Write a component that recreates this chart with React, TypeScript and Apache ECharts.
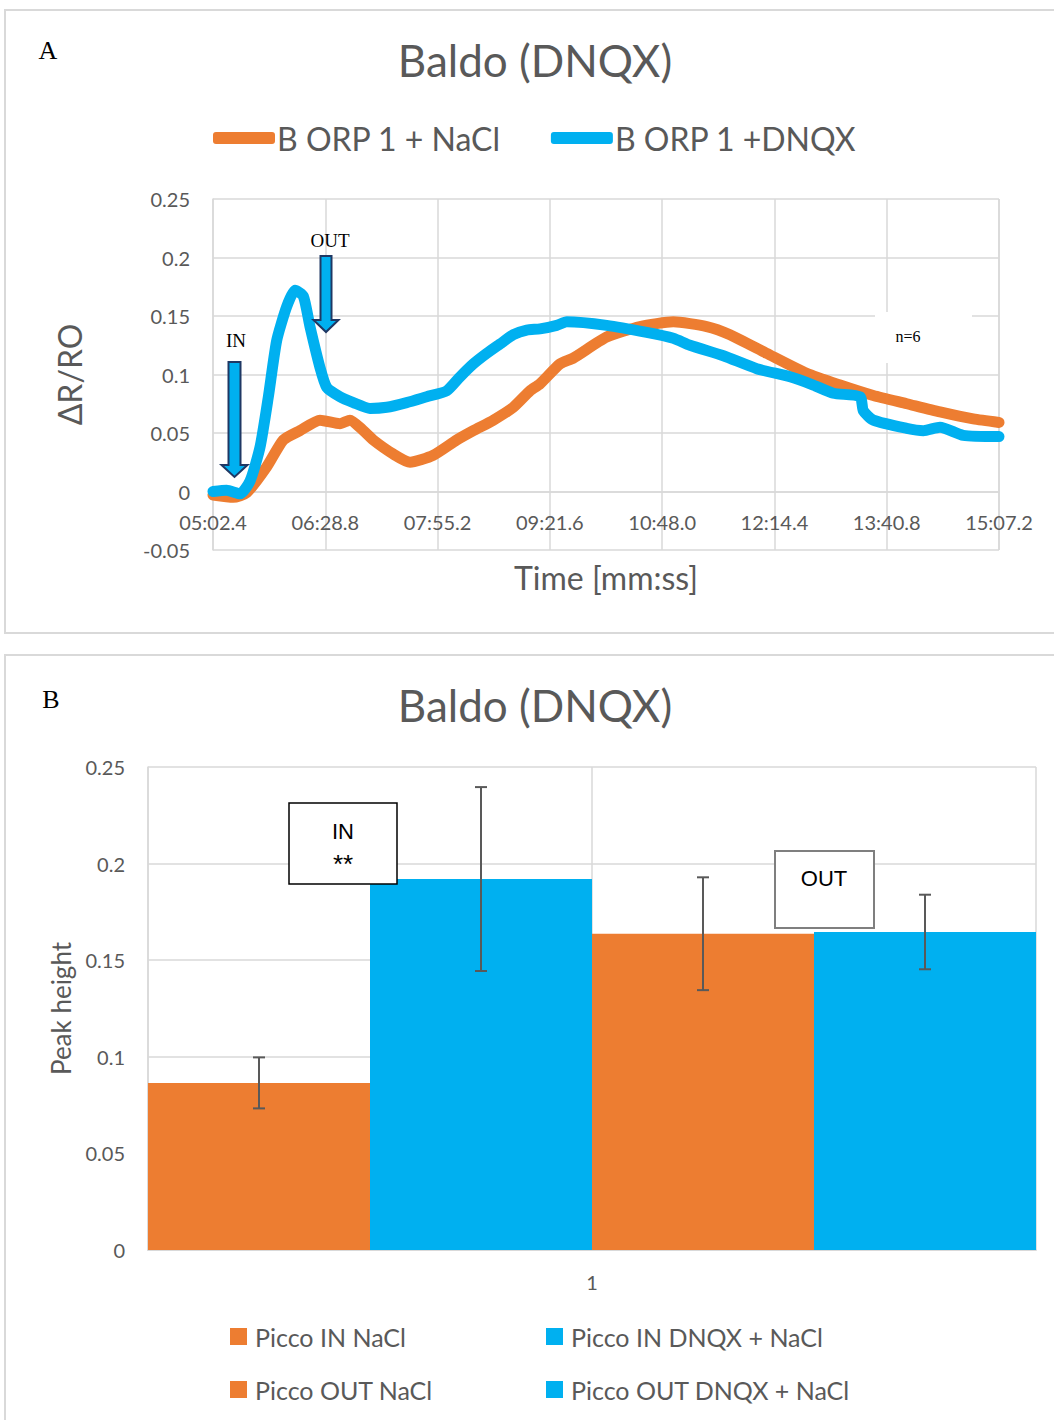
import React, { useEffect, useRef } from "react";
import * as echarts from "echarts";

// ---------- Panel A data (time in seconds, ΔR/R0) ----------
const T0 = 302.4; // 05:02.4
const T_END = 907.2; // 15:07.2
const TICK_STEP = 86.4;
const Y_MIN_A = -0.05;
const Y_MAX_A = 0.25;

const NACL_T = [302.4, 318.0, 328.3, 343.7, 356.5, 369.3, 384.7, 400.1, 407.8, 418.1, 425.7, 441.1, 454.0, 471.9, 489.9, 502.7, 518.1, 533.5, 546.3, 554.0, 569.4, 579.6, 605.3, 631.0, 656.6, 682.3, 700.2, 728.5, 759.2, 784.9, 810.5, 836.2, 861.8, 887.4, 907.2];
const NACL_V = [-0.003, -0.005, -0.001, 0.021, 0.044, 0.052, 0.061, 0.058, 0.061, 0.052, 0.044, 0.032, 0.025, 0.031, 0.044, 0.052, 0.061, 0.072, 0.086, 0.092, 0.109, 0.114, 0.132, 0.141, 0.145, 0.141, 0.134, 0.118, 0.101, 0.091, 0.082, 0.075, 0.068, 0.062, 0.059];

const DNQX_T = [302.4, 312.9, 323.2, 330.9, 338.6, 345.0, 351.4, 359.1, 365.5, 371.9, 377.0, 384.7, 389.9, 400.1, 410.4, 423.2, 436.1, 451.4, 466.8, 482.2, 492.5, 502.7, 513.0, 523.2, 533.5, 543.8, 554.0, 566.9, 574.6, 605.3, 636.1, 656.6, 669.4, 695.1, 720.8, 746.4, 764.3, 779.7, 800.3, 802.8, 810.5, 836.2, 849.0, 861.8, 879.7, 907.2];
const DNQX_V = [0.000, 0.001, -0.002, 0.009, 0.038, 0.081, 0.129, 0.158, 0.172, 0.167, 0.141, 0.106, 0.089, 0.081, 0.076, 0.071, 0.072, 0.076, 0.081, 0.086, 0.098, 0.109, 0.118, 0.126, 0.134, 0.138, 0.139, 0.142, 0.145, 0.142, 0.136, 0.131, 0.125, 0.116, 0.105, 0.098, 0.091, 0.084, 0.081, 0.069, 0.061, 0.054, 0.052, 0.055, 0.048, 0.047];

const LINE_NAMES = ["B ORP 1 + NaCl", "B ORP 1 +DNQX"];

// ---------- Panel B data ----------
const BAR_CATEGORIES = ["1"];
const BAR_NAMES = ["Picco IN NaCl", "Picco IN DNQX + NaCl", "Picco OUT NaCl", "Picco OUT DNQX + NaCl"];
const BAR_MEANS = [0.0865, 0.192, 0.1637, 0.1646];
const BAR_ERRS = [0.0132, 0.0476, 0.0292, 0.0193];

const ORANGE = "#ED7D31";
const BLUE = "#00B0F0";
const BAR_COLORS = [ORANGE, BLUE, ORANGE, BLUE];
const GRID_C = "#d9d9d9";
const TEXT_C = "#595959";
const FONT = 'Lato, "Noto Sans", sans-serif';
const SERIF = '"Liberation Serif", "DejaVu Serif", serif';

const GRID_A = { left: 213, top: 199, width: 786, height: 351 };

function fmtTime(v: number) {
  const t = Math.round((v + T0) * 10) / 10;
  const mm = Math.floor(t / 60);
  const ss = t - mm * 60;
  const ssStr = ss.toFixed(1).padStart(4, "0");
  return String(mm).padStart(2, "0") + ":" + ssStr;
}

function fmtNum(v: number) {
  return String(Math.round(v * 100) / 100);
}

export default function App() {
  const ref = useRef<HTMLDivElement>(null);
  useEffect(() => {
    if (!ref.current) return;
    const chart = echarts.init(ref.current, null, { renderer: "svg" });

    const nacl = NACL_T.map((t, i) => [t - T0, NACL_V[i]]);
    const dnqx = DNQX_T.map((t, i) => [t - T0, DNQX_V[i]]);
    const nBars = BAR_MEANS.length;
    const errData = BAR_MEANS.map((m, i) => [((i + 0.5) * 2) / nBars, m, BAR_ERRS[i]]);
    // place the time axis on the zero line (offset from the bottom of the grid)
    const zeroOffset = -(GRID_A.height * (0 - Y_MIN_A)) / (Y_MAX_A - Y_MIN_A);

    const lineSeries = (name: string, data: number[][], color: string) => ({
      name,
      type: "line",
      xAxisIndex: 0,
      yAxisIndex: 0,
      data,
      showSymbol: false,
      symbol: "none",
      smooth: 0.2,
      lineStyle: { width: 11, color, cap: "round", join: "round" },
      itemStyle: { color },
      z: 3,
    });

    const arrowStyle = { fill: BLUE, stroke: "#1F3864", lineWidth: 2 };

    const option: any = {
      animation: false,
      backgroundColor: "#ffffff",
      textStyle: { fontFamily: FONT },
      title: [
        {
          text: "Baldo (DNQX)",
          left: 535,
          top: 38,
          textAlign: "center",
          padding: 0,
          textStyle: { fontSize: 44, color: TEXT_C, fontWeight: "normal", fontFamily: FONT },
        },
        {
          text: "Baldo (DNQX)",
          left: 535,
          top: 683,
          textAlign: "center",
          padding: 0,
          textStyle: { fontSize: 44, color: TEXT_C, fontWeight: "normal", fontFamily: FONT },
        },
      ],
      legend: [
        {
          data: LINE_NAMES,
          left: 213,
          top: 122,
          padding: 0,
          itemGap: 50,
          itemWidth: 62,
          itemHeight: 12,
          icon: "roundRect",
          textStyle: { fontSize: 32, color: TEXT_C, fontFamily: FONT, padding: [0, 0, 0, -3] },
        },
        {
          data: [BAR_NAMES[0], BAR_NAMES[2]],
          orient: "vertical",
          left: 230,
          top: 1324,
          padding: 0,
          itemGap: 28,
          itemWidth: 17,
          itemHeight: 17,
          icon: "rect",
          textStyle: { fontSize: 25, color: TEXT_C, fontFamily: FONT, padding: [0, 0, 0, 3] },
        },
        {
          data: [BAR_NAMES[1], BAR_NAMES[3]],
          orient: "vertical",
          left: 546,
          top: 1324,
          padding: 0,
          itemGap: 28,
          itemWidth: 17,
          itemHeight: 17,
          icon: "rect",
          textStyle: { fontSize: 25, color: TEXT_C, fontFamily: FONT, padding: [0, 0, 0, 3] },
        },
      ],
      grid: [
        GRID_A,
        { left: 148, top: 767, width: 888, height: 483 },
      ],
      xAxis: [
        {
          type: "value",
          gridIndex: 0,
          min: 0,
          max: T_END - T0,
          interval: TICK_STEP,
          offset: zeroOffset,
          axisLine: { show: true, onZero: false, lineStyle: { color: GRID_C, width: 1.5 } },
          axisTick: { show: false },
          axisLabel: {
            formatter: fmtTime,
            color: TEXT_C,
            fontSize: 20,
            margin: 20,
            showMinLabel: true,
            showMaxLabel: true,
            hideOverlap: false,
          },
          splitLine: { show: true, lineStyle: { color: GRID_C, width: 1.5 } },
          name: "Time [mm:ss]",
          nameLocation: "middle",
          nameGap: 70,
          nameTextStyle: { fontSize: 32, color: TEXT_C, fontFamily: FONT },
        },
        {
          type: "category",
          gridIndex: 1,
          data: BAR_CATEGORIES,
          axisLine: { show: true, lineStyle: { color: GRID_C, width: 2 } },
          axisTick: { show: false },
          axisLabel: { color: TEXT_C, fontSize: 20, margin: 22 },
          splitLine: { show: false },
        },
        {
          type: "value",
          gridIndex: 1,
          min: 0,
          max: 2,
          interval: 1,
          position: "top",
          axisLine: { show: false },
          axisTick: { show: false },
          axisLabel: { show: false },
          splitLine: { show: true, lineStyle: { color: GRID_C, width: 1.5 } },
        },
      ],
      yAxis: [
        {
          type: "value",
          gridIndex: 0,
          min: Y_MIN_A,
          max: Y_MAX_A,
          interval: 0.05,
          axisLine: { show: true, onZero: false, lineStyle: { color: GRID_C, width: 1.5 } },
          axisTick: { show: false },
          axisLabel: { formatter: fmtNum, color: TEXT_C, fontSize: 20, margin: 23 },
          splitLine: { show: true, lineStyle: { color: GRID_C, width: 1.5 } },
          name: "ΔR/RO",
          nameLocation: "middle",
          nameRotate: 90,
          nameGap: 128,
          nameTextStyle: { fontSize: 32, color: TEXT_C, fontFamily: FONT },
        },
        {
          type: "value",
          gridIndex: 1,
          min: 0,
          max: 0.25,
          interval: 0.05,
          axisLine: { show: true, lineStyle: { color: GRID_C, width: 1.5 } },
          axisTick: { show: false },
          axisLabel: { formatter: fmtNum, color: TEXT_C, fontSize: 20, margin: 23 },
          splitLine: { show: true, lineStyle: { color: GRID_C, width: 1.5 } },
          name: "Peak height",
          nameLocation: "middle",
          nameRotate: 90,
          nameGap: 74,
          nameTextStyle: { fontSize: 26, color: TEXT_C, fontFamily: FONT },
        },
      ],
      series: [
        lineSeries(LINE_NAMES[0], nacl, ORANGE),
        lineSeries(LINE_NAMES[1], dnqx, BLUE),
        ...BAR_NAMES.map((name, i) => ({
          name,
          type: "bar",
          xAxisIndex: 1,
          yAxisIndex: 1,
          data: [BAR_MEANS[i]],
          barGap: "0%",
          barCategoryGap: "0%",
          itemStyle: { color: BAR_COLORS[i] },
        })),
        {
          type: "custom",
          name: "err",
          xAxisIndex: 2,
          yAxisIndex: 1,
          data: errData,
          z: 10,
          renderItem: (params: any, api: any) => {
            const x = api.value(0);
            const m = api.value(1);
            const e = api.value(2);
            const top = api.coord([x, m + e]);
            const bot = api.coord([x, m - e]);
            const cap = 6;
            const style = { stroke: "#595959", lineWidth: 2 };
            return {
              type: "group",
              children: [
                { type: "line", shape: { x1: top[0], y1: top[1], x2: bot[0], y2: bot[1] }, style },
                { type: "line", shape: { x1: top[0] - cap, y1: top[1], x2: top[0] + cap, y2: top[1] }, style },
                { type: "line", shape: { x1: bot[0] - cap, y1: bot[1], x2: bot[0] + cap, y2: bot[1] }, style },
              ],
            };
          },
        },
      ],
      graphic: [
        { type: "rect", z: 0, silent: true, shape: { x: 5, y: 10, width: 1070, height: 623 }, style: { fill: "none", stroke: GRID_C, lineWidth: 2 } },
        { type: "rect", z: 0, silent: true, shape: { x: 5, y: 655, width: 1070, height: 790 }, style: { fill: "none", stroke: GRID_C, lineWidth: 2 } },
        { type: "text", z: 100, x: 48, y: 50, style: { text: "A", font: `26px ${SERIF}`, fill: "#000", align: "center", verticalAlign: "middle" } },
        { type: "text", z: 100, x: 51, y: 699, style: { text: "B", font: `26px ${SERIF}`, fill: "#000", align: "center", verticalAlign: "middle" } },
        // IN arrow
        { type: "text", z: 100, x: 236, y: 340, style: { text: "IN", font: `19px ${SERIF}`, fill: "#000", align: "center", verticalAlign: "middle" } },
        {
          type: "polygon",
          z: 100,
          shape: { points: [[228.5, 362], [240.5, 362], [240.5, 465], [247.5, 465], [234.5, 477], [221.5, 465], [228.5, 465]] },
          style: arrowStyle,
        },
        // OUT arrow
        { type: "text", z: 100, x: 330, y: 240, style: { text: "OUT", font: `19px ${SERIF}`, fill: "#000", align: "center", verticalAlign: "middle" } },
        {
          type: "polygon",
          z: 100,
          shape: { points: [[320.5, 256], [331.5, 256], [331.5, 320], [338.5, 320], [326, 332], [313.5, 320], [320.5, 320]] },
          style: arrowStyle,
        },
        // n=6 label
        { type: "rect", z: 100, shape: { x: 875, y: 312, width: 97, height: 51 }, style: { fill: "#fff" } },
        { type: "text", z: 101, x: 908, y: 336, style: { text: "n=6", font: `16px ${SERIF}`, fill: "#000", align: "center", verticalAlign: "middle" } },
        // IN ** box
        { type: "rect", z: 100, shape: { x: 289, y: 803, width: 108, height: 81 }, style: { fill: "#fff", stroke: "#000", lineWidth: 1.5 } },
        { type: "text", z: 101, x: 343, y: 831, style: { text: "IN", font: `22px "Liberation Sans", Arial, sans-serif`, fill: "#000", align: "center", verticalAlign: "middle" } },
        { type: "text", z: 101, x: 343, y: 864, style: { text: "**", font: `26px "Liberation Sans", Arial, sans-serif`, fill: "#000", align: "center", verticalAlign: "middle" } },
        // OUT box
        { type: "rect", z: 100, shape: { x: 775, y: 851, width: 99, height: 77 }, style: { fill: "#fff", stroke: "#7f7f7f", lineWidth: 2 } },
        { type: "text", z: 101, x: 824, y: 878, style: { text: "OUT", font: `22px "Liberation Sans", Arial, sans-serif`, fill: "#000", align: "center", verticalAlign: "middle" } },
      ],
    };

    chart.setOption(option);
    return () => chart.dispose();
  }, []);

  return (
    <div
      ref={ref}
      style={{ position: "absolute", left: 0, top: 0, width: 1054, height: 1420, background: "#fff" }}
    />
  );
}
